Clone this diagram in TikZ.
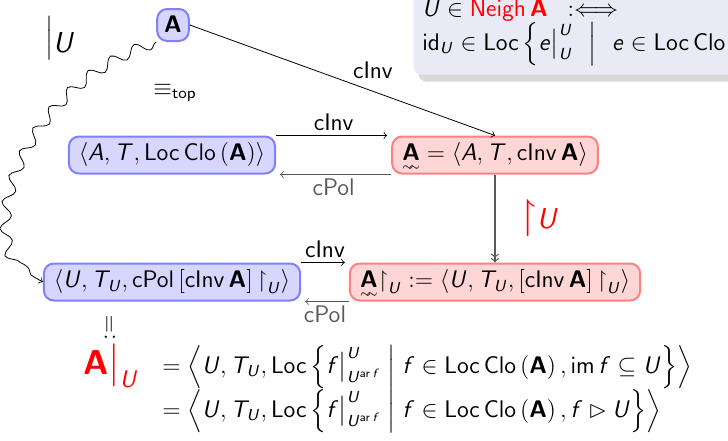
\documentclass[tikz,border=0pt,12pt]{standalone}
\usepackage{amsmath,amssymb}
\usetikzlibrary{decorations.pathmorphing,shadows}
\renewcommand{\familydefault}{\sfdefault}
\makeatletter
\DeclareSymbolFont{sfops}{OT1}{cmss}{m}{n}
\DeclareSymbolFont{sfslant}{OT1}{cmss}{m}{sl}
\def\sfletter#1{\DeclareMathSymbol{#1}{\mathalpha}{sfslant}{`#1}}
\@tfor\next:=ABCDEFGHIJKLMNOPQRSTUVWXYZabcdefghijklmnopqrstuvwxyz\do{\expandafter\sfletter\next}
\renewcommand{\operator@font}{\mathgroup\symsfops}
\makeatother
\DeclareMathAlphabet{\mathbf}{OT1}{cmss}{bx}{n}
\DeclareMathAlphabet{\mathrm}{OT1}{cmss}{m}{n}
\DeclareMathOperator{\Loc}{Loc}
\DeclareMathOperator{\Clo}{Clo}
\DeclareMathOperator{\cInv}{cInv}
\DeclareMathOperator{\cPol}{cPol}
\DeclareMathOperator{\Neigh}{Neigh}
\newcommand{\rst}{\mathord{\upharpoonright}}
\newcommand{\wavyA}{\underset{\raisebox{2pt}{$\scriptscriptstyle\sim\!\!\sim$}}{\mathbf{A}}}
\definecolor{blockbg}{RGB}{234,234,246}
\begin{document}
\begin{tikzpicture}[x=0.5pt, y=0.5pt,
    bluebox/.style={draw=blue!50, fill=blue!16, line width=1pt, rounded corners=5pt, inner xsep=5pt, inner ysep=2pt,
        text height=10pt, text depth=4.5pt},
    redbox/.style={draw=red!50, fill=red!16, line width=1pt, rounded corners=5pt, inner xsep=5pt, inner ysep=2pt,
        text height=10pt, text depth=4.5pt},
    defblock/.style={fill=blockbg, rounded corners=4pt, anchor=south west, minimum width=200pt, minimum height=50pt,
        drop shadow={opacity=0.3, shadow xshift=2.5pt, shadow yshift=-3.5pt}},
    lbl/.style={inner sep=2pt}]
    \useasboundingbox (0,0) rectangle (728,-440);
    \node[defblock] (defn) at (413,-75) {};
    \node[anchor=base west, inner sep=0pt] (defl1) at (422,-16) {$U \in {\color{red}\Neigh\mathbf{A}}\;\;:\Longleftrightarrow$};
    \node[anchor=base west, inner sep=0pt] (defl2) at (422,-50) {$\mathrm{id}_U \in \Loc\Big\{e\big|^U_U \ \ \Big|\ \ e \in \Loc\Clo$};
    \node[bluebox, text height=8pt, text depth=1pt, inner sep=3.5pt] (A) at (173,-25) {$\mathbf{A}$};
    \node[bluebox] (B1) at (172,-155) {$\langle A, T, \Loc\Clo\left(\mathbf{A}\right)\rangle$};
    \node[redbox] (R1) at (495,-155) {$\wavyA = \langle A, T, \cInv\mathbf{A}\rangle$};
    \node[bluebox] (B2) at (172,-282) {$\langle U, T_U, \cPol\left[\cInv\mathbf{A}\right]\rst_U\rangle$};
    \node[redbox] (R2) at (495,-282) {$\wavyA\rst_U := \langle U, T_U, \left[\cInv\mathbf{A}\right]\rst_U\rangle$};
    \node (resU) at (60,-38) {\raisebox{4pt}{$\Big|$}{\large$U$}};
    \node (eqtop) at (175,-93) {$\equiv_{\mathrm{top}}$};
    \draw[->] (A.east) -- node[lbl, pos=0.6, above=4pt] (l0) {cInv} (R1.north);
    \draw[->, shorten >=2pt] (B1.north east) -- node[lbl, above] (l1) {cInv} (R1.north west);
    \draw[->, black!65, shorten >=2pt] (R1.south west) -- node[lbl, below] (l2) {cPol} (B1.south east);
    \draw[->>, black!65, semithick] (R1.south) -- node[right=8pt, red] (l3) {{\LARGE$\upharpoonright$}{\large$U$}} (R2.north);
    \draw[->, shorten >=2pt] (B2.north east) -- node[lbl, above] (l4) {cInv} (R2.north west);
    \draw[->, black!65, shorten >=2pt] (R2.south west) -- node[lbl, below] (l5) {cPol} (B2.south east);
    \draw[->, decorate, decoration={snake, amplitude=2.8pt, segment length=13pt, post length=4pt}]
        (A.south west) .. controls (20,-90) and (-25,-250) .. (B2.west);
    \node[rotate=90] (eqv) at (110,-328) {$:=$};
    \node[red] (AU) at (111,-366) {\Large$\mathbf{A}\big|_{U}$};
    \node[anchor=west, inner sep=0pt] (eq1) at (162,-367) {$= \left\langle U, T_U, \Loc\left\{ f\big|^U_{U^{\operatorname{ar} f}} \;\middle|\; f \in \Loc\Clo\left(\mathbf{A}\right), \operatorname{im} f \subseteq U \right\}\right\rangle$};
    \node[anchor=west, inner sep=0pt] (eq2) at (162,-411) {$= \left\langle U, T_U, \Loc\left\{ f\big|^U_{U^{\operatorname{ar} f}} \;\middle|\; f \in \Loc\Clo\left(\mathbf{A}\right), f \rhd U \right\}\right\rangle$};
\end{tikzpicture}
\end{document}
